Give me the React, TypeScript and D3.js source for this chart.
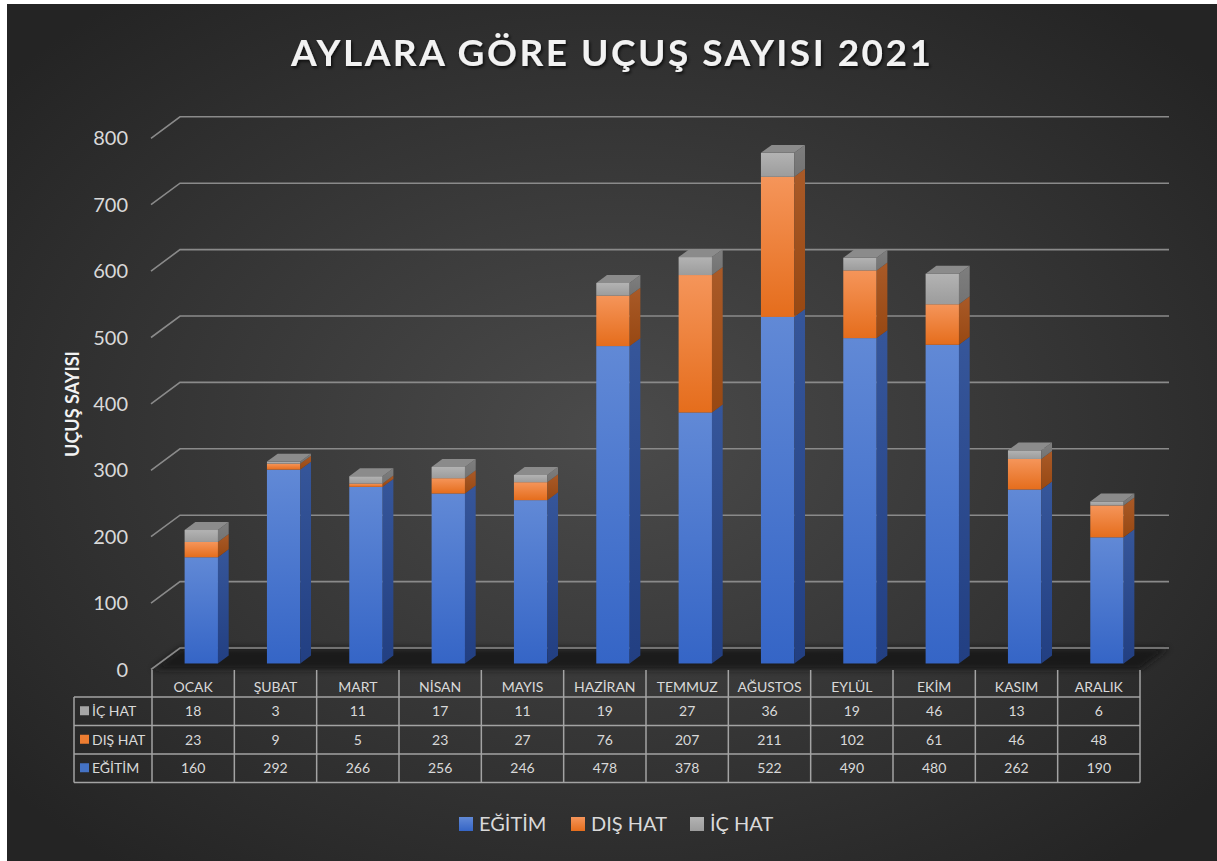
import React from "react";
import * as d3 from "d3";

const months = ["OCAK", "ŞUBAT", "MART", "NİSAN", "MAYIS", "HAZİRAN", "TEMMUZ", "AĞUSTOS", "EYLÜL", "EKİM", "KASIM", "ARALIK"];
const egitim = [160, 292, 266, 256, 246, 478, 378, 522, 490, 480, 262, 190];
const disHat = [23, 9, 5, 23, 27, 76, 207, 211, 102, 61, 46, 48];
const icHat = [18, 3, 11, 17, 11, 19, 27, 36, 19, 46, 13, 6];
const yTicks = [0, 100, 200, 300, 400, 500, 600, 700, 800];
const seriesNames = ["EĞİTİM", "DIŞ HAT", "İÇ HAT"];
const seriesKeys = ["egitim", "dis", "ic"];

const W = 1217;
const H = 861;
const FONT = "Lato, 'Open Sans', sans-serif";

// depth geometry
const DEPTH_DX = 29;
const DEPTH_DY = 21.5;
const BAR_D0 = 0.28;
const BAR_D1 = 0.65;

const colors = {
  egitim: { f0: "#6189d6", f1: "#3565c6", s0: "#36569a", s1: "#223f82", top: "#4a70bb", key: "#4472c4" },
  dis: { f0: "#f5955a", f1: "#e56d1c", s0: "#a95a28", s1: "#984812", top: "#c0662a", key: "#ed7d31" },
  ic: { f0: "#b3b3b3", f1: "#9c9c9c", s0: "#7e7e7e", s1: "#737373", top: "#8b8b8b", key: "#a5a5a5" },
};

export default function App() {
  const rows = months.map((m, i) => ({ month: m, egitim: egitim[i], dis: disHat[i], ic: icHat[i] }));
  const stacked = d3.stack<any>().keys(seriesKeys)(rows);

  const x = d3.scaleBand<string>().domain(months).range([152, 1140]).paddingInner(0.595).paddingOuter(0.2975);
  const step = x.step();
  const colStart = (i: number) => 152 + i * step;

  // front plane y scale
  const yFront = d3.scaleLinear().domain([0, 800]).range([669.5, 138.3]);
  const depthX = (d: number) => DEPTH_DX * d;
  const depthY = (d: number) => -DEPTH_DY * d;

  const bx0 = depthX(BAR_D0);
  const by0 = depthY(BAR_D0);
  const ddx = depthX(BAR_D1) - depthX(BAR_D0);
  const ddy = depthY(BAR_D1) - depthY(BAR_D0);
  const bw = x.bandwidth();

  const backRight = 1140 + DEPTH_DX;

  const tableLeft = 74;
  const tableSplit = 152;
  const tableRight = 1140;
  const headerTop = 670;
  const rowLines = [697, 725.5, 754, 782.5];
  const tableRows = [
    { name: "İÇ HAT", key: "ic", vals: icHat },
    { name: "DIŞ HAT", key: "dis", vals: disHat },
    { name: "EĞİTİM", key: "egitim", vals: egitim },
  ];

  const legendItems = [
    { name: seriesNames[0], key: "egitim", x: 459 },
    { name: seriesNames[1], key: "dis", x: 571 },
    { name: seriesNames[2], key: "ic", x: 690 },
  ];

  return (
    <svg width={W} height={H} style={{ position: "absolute", left: 0, top: 0, display: "block" }} xmlns="http://www.w3.org/2000/svg">
      <defs>
        <radialGradient id="bg" cx="50%" cy="50%" r="65%">
          <stop offset="0%" stopColor="#4b4b4b" />
          <stop offset="100%" stopColor="#242424" />
        </radialGradient>
        {seriesKeys.map((k) => (
          <React.Fragment key={k}>
            <linearGradient id={`f-${k}`} x1="0" y1="0" x2="0" y2="1">
              <stop offset="0%" stopColor={(colors as any)[k].f0} />
              <stop offset="100%" stopColor={(colors as any)[k].f1} />
            </linearGradient>
            <linearGradient id={`s-${k}`} x1="0" y1="0" x2="0" y2="1">
              <stop offset="0%" stopColor={(colors as any)[k].s0} />
              <stop offset="100%" stopColor={(colors as any)[k].s1} />
            </linearGradient>
          </React.Fragment>
        ))}
        <filter id="blur" x="-5%" y="-100%" width="110%" height="300%">
          <feGaussianBlur stdDeviation="3" />
        </filter>
        <filter id="tshadow" x="-5%" y="-30%" width="110%" height="160%">
          <feDropShadow dx="1.5" dy="2" stdDeviation="1.5" floodColor="#000" floodOpacity="0.7" />
        </filter>
      </defs>

      <rect x={0} y={0} width={W} height={H} fill="#ffffff" />
      <rect x={7} y={4} width={W - 7} height={H - 4} fill="url(#bg)" />

      {/* Title */}
      <text x={611} y={66} textAnchor="middle" fill="#f2f2f2" fontFamily={FONT} fontWeight={700} fontSize={37}
        textLength={640} lengthAdjust="spacing" filter="url(#tshadow)">
        AYLARA GÖRE UÇUŞ SAYISI 2021
      </text>

      {/* Floor shadow */}
      <path
        d={`M152,${yFront(0)} L1140,${yFront(0)} L${backRight},${yFront(0) - DEPTH_DY} L${152 + DEPTH_DX},${yFront(0) - DEPTH_DY} Z`}
        fill="#141414" opacity={0.85} filter="url(#blur)"
      />

      {/* Gridlines */}
      {yTicks.map((t) => (
        <g key={t}>
          <polyline
            points={`151,${yFront(t)} ${151 + DEPTH_DX},${yFront(t) - DEPTH_DY} ${backRight},${yFront(t) - DEPTH_DY}`}
            fill="none" stroke="#8a8a8a" strokeWidth={1.6}
          />
          <text x={128} y={yFront(t) + 7} textAnchor="end" fill="#d9d9d9" fontFamily={FONT} fontSize={20}>
            {t}
          </text>
        </g>
      ))}

      {/* Y axis title */}
      <text transform={`translate(79,404) rotate(-90)`} textAnchor="middle" fill="#f2f2f2" fontFamily={FONT}
        fontWeight={700} fontSize={18}>
        UÇUŞ SAYISI
      </text>

      {/* Bars */}
      {months.map((m, i) => {
        const fx = (x(m) as number) + bx0;
        return (
          <g key={m}>
            {stacked.map((s, si) => {
              const d = s[i];
              const yT = yFront(d[1]) + by0;
              const yB = yFront(d[0]) + by0;
              const h = Math.max(0, yB - yT);
              const k = s.key;
              const isTop = si === stacked.length - 1;
              return (
                <g key={k}>
                  <rect x={fx} y={yT} width={bw} height={h} fill={`url(#f-${k})`} />
                  <path
                    d={`M${fx + bw},${yT} L${fx + bw + ddx},${yT + ddy} L${fx + bw + ddx},${yB + ddy} L${fx + bw},${yB} Z`}
                    fill={`url(#s-${k})`}
                  />
                  {isTop && (
                    <path
                      d={`M${fx},${yT} L${fx + ddx},${yT + ddy} L${fx + bw + ddx},${yT + ddy} L${fx + bw},${yT} Z`}
                      fill={(colors as any)[k].top}
                    />
                  )}
                </g>
              );
            })}
          </g>
        );
      })}

      {/* Data table */}
      <g stroke="#a3a3a3" strokeWidth={1.5} fill="none">
        {d3.range(13).map((j) => (
          <line key={`v${j}`} x1={colStart(j)} x2={colStart(j)} y1={headerTop} y2={rowLines[3]} />
        ))}
        <line x1={tableLeft} x2={tableLeft} y1={rowLines[0]} y2={rowLines[3]} />
        {rowLines.map((y, j) => (
          <line key={`h${j}`} x1={tableLeft} x2={tableRight} y1={y} y2={y} />
        ))}
      </g>
      {months.map((m, i) => (
        <text key={`mh${m}`} x={colStart(i) + step / 2} y={692} textAnchor="middle" fill="#d9d9d9" fontFamily={FONT} fontSize={14}>
          {m}
        </text>
      ))}
      {tableRows.map((r, ri) => {
        const cy = (rowLines[ri] + rowLines[ri + 1]) / 2;
        return (
          <g key={r.key}>
            <rect x={80} y={cy - 5} width={9} height={9} fill={(colors as any)[r.key].key} />
            <text x={92} y={cy + 5} fill="#d9d9d9" fontFamily={FONT} fontSize={14}>
              {r.name}
            </text>
            {r.vals.map((v, i) => (
              <text key={i} x={colStart(i) + step / 2} y={cy + 5} textAnchor="middle" fill="#d9d9d9" fontFamily={FONT} fontSize={14}>
                {v}
              </text>
            ))}
          </g>
        );
      })}

      {/* Legend */}
      {legendItems.map((l) => (
        <g key={l.key}>
          <rect x={l.x} y={817} width={14} height={14} fill={`url(#f-${l.key})`} />
          <text x={l.x + 20} y={831} fill="#d9d9d9" fontFamily={FONT} fontSize={20}>
            {l.name}
          </text>
        </g>
      ))}
    </svg>
  );
}
